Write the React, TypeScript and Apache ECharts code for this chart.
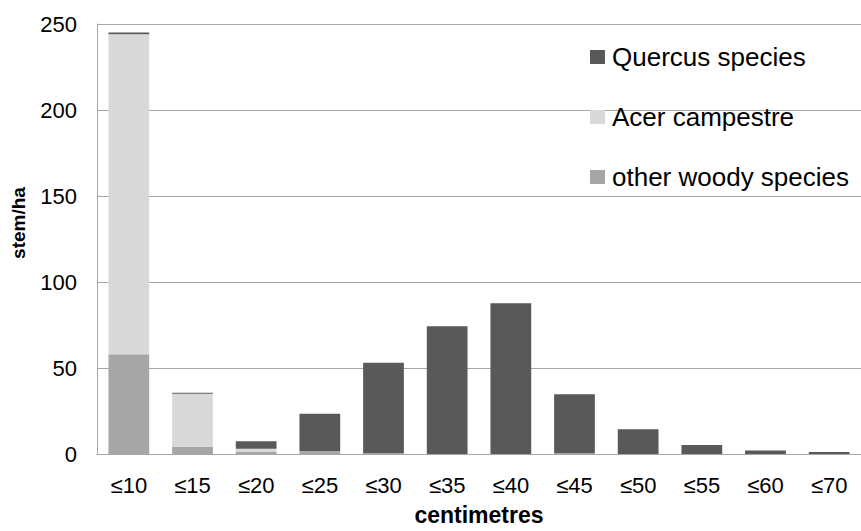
import React, { useEffect, useRef } from "react";
import * as echarts from "echarts";

const categories = ["≤10", "≤15", "≤20", "≤25", "≤30", "≤35", "≤40", "≤45", "≤50", "≤55", "≤60", "≤70"];
const otherWoody = [58, 4, 1.5, 1.7, 0.5, 0, 0, 0.5, 0, 0, 0, 0];
const acerCampestre = [186, 31, 1.5, 0, 0, 0, 0, 0, 0, 0, 0, 0];
const quercusSpecies = [1, 0.6, 4.4, 21.7, 52.5, 74.3, 87.6, 34.2, 14.4, 5.2, 2, 1.2];
const yTicks = [0, 50, 100, 150, 200, 250];

export default function App() {
  const ref = useRef<HTMLDivElement>(null);
  useEffect(() => {
    document.body.style.margin = "0";
    const chart = echarts.init(ref.current!, null, { renderer: "svg" });
    const font = "Arial, 'Liberation Sans', sans-serif";
    chart.setOption({
      animation: false,
      textStyle: { fontFamily: font },
      grid: { left: 97, right: 0, top: 24, bottom: 73, containLabel: false },
      legend: {
        orient: "vertical",
        left: 590,
        top: 44,
        padding: 0,
        itemWidth: 15,
        itemHeight: 14,
        itemGap: 34,
        icon: "rect",
        data: ["Quercus species", "Acer campestre", "other woody species"],
        textStyle: { fontSize: 26, color: "#000", fontFamily: font, padding: [0, 0, 0, 2] },
      },
      graphic: [
        {
          type: "text",
          x: 18,
          y: 223,
          rotation: Math.PI / 2,
          style: {
            text: "stem/ha",
            fontSize: 19,
            fontWeight: "bold",
            fontFamily: font,
            fill: "#000",
            textAlign: "center",
            textVerticalAlign: "middle",
          },
        },
      ],
      xAxis: {
        type: "category",
        data: categories,
        name: "centimetres",
        nameLocation: "middle",
        nameGap: 49,
        nameTextStyle: { fontSize: 23, fontWeight: "bold", color: "#000", fontFamily: font },
        axisLine: { lineStyle: { color: "#a6a6a6", width: 1 } },
        axisTick: { show: false },
        axisLabel: { fontSize: 22, color: "#000", margin: 20, fontFamily: font },
      },
      yAxis: {
        type: "value",
        min: yTicks[0],
        max: yTicks[yTicks.length - 1],
        interval: 50,
        axisLine: { show: true, lineStyle: { color: "#a6a6a6", width: 1 } },
        axisTick: { show: false },
        splitLine: { lineStyle: { color: "#a6a6a6", width: 1 } },
        axisLabel: { fontSize: 22, color: "#000", margin: 20, fontFamily: font },
      },
      series: [
        {
          name: "other woody species",
          type: "bar",
          stack: "total",
          data: otherWoody,
          barWidth: "64%",
          itemStyle: { color: "#a6a6a6" },
        },
        {
          name: "Acer campestre",
          type: "bar",
          stack: "total",
          data: acerCampestre,
          itemStyle: { color: "#d9d9d9" },
        },
        {
          name: "Quercus species",
          type: "bar",
          stack: "total",
          data: quercusSpecies,
          itemStyle: { color: "#595959" },
        },
      ],
    });
    return () => chart.dispose();
  }, []);
  return (
    <div
      ref={ref}
      style={{ position: "absolute", left: 0, top: 0, width: 861, height: 531 }}
    />
  );
}
